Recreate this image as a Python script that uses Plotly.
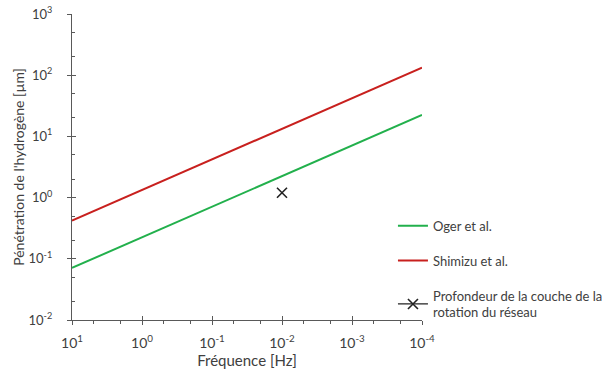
import plotly.graph_objects as go

freq = [10, 1e-4]
oger = [0.071, 22.4]
shimizu = [0.42, 133]
marker_freq = [1e-2]
marker_depth = [1.2]

x_tickvals = [10, 1, 0.1, 0.01, 0.001, 0.0001]
x_ticktext = ["10<sup>1</sup>", "10<sup>0</sup>", "10<sup>-1</sup>", "10<sup>-2</sup>", "10<sup>-3</sup>", "10<sup>-4</sup>"]
y_tickvals = [0.01, 0.1, 1, 10, 100, 1000]
y_ticktext = ["10<sup>-2</sup>", "10<sup>-1</sup>", "10<sup>0</sup>", "10<sup>1</sup>", "10<sup>2</sup>", "10<sup>3</sup>"]

FONT = "Lato"
TXT = "#404040"
AX = "#595959"

fig = go.Figure()
fig.add_trace(go.Scatter(x=freq, y=oger, mode="lines", name="Oger et al.",
                         line=dict(color="#22b04c", width=2), legendgroup="a"))
fig.add_trace(go.Scatter(x=freq, y=shimizu, mode="lines", name="Shimizu et al.",
                         line=dict(color="#c8201e", width=2), legendgroup="b"))
fig.add_trace(go.Scatter(x=marker_freq, y=marker_depth, mode="lines+markers",
                         name="Profondeur de la couche de la<br>rotation du réseau",
                         marker=dict(symbol="x-thin", size=10, line=dict(color="#222222", width=1.6), color="#222222"),
                         line=dict(color="#222222", width=1.2), legendgroup="c"))
# invisible trace for secondary (inside-tick) axes
fig.add_trace(go.Scatter(x=freq, y=oger, xaxis="x2", yaxis="y2", mode="lines",
                         line=dict(width=0), showlegend=False, hoverinfo="skip", opacity=0))

fig.update_layout(
    width=603, height=372,
    margin=dict(l=72, r=181, t=14, b=52, autoexpand=False),
    paper_bgcolor="white", plot_bgcolor="white",
    font=dict(family=FONT, size=13, color=TXT),
    showlegend=True,
    legend=dict(x=0.917, y=0.357, xanchor="left", yanchor="top",
                font=dict(family=FONT, size=13, color=TXT),
                tracegroupgap=15, itemwidth=30, bgcolor="rgba(0,0,0,0)"),
    xaxis=dict(type="log", range=[1, -4], autorange=False,
               tickvals=x_tickvals, ticktext=x_ticktext,
               showgrid=False, zeroline=False, showline=True, linecolor=AX, linewidth=1.3,
               ticks="outside", ticklen=4, tickcolor=AX, tickwidth=1.3,
               minor=dict(ticks="outside", ticklen=3, tickcolor=AX, showgrid=False),
               tickfont=dict(size=14, color=TXT), ticklabelstandoff=6,
               title=dict(text="Fréquence [Hz]", font=dict(size=15, color=TXT), standoff=4)),
    yaxis=dict(type="log", range=[-2, 3], autorange=False,
               tickvals=y_tickvals, ticktext=y_ticktext,
               showgrid=False, zeroline=False, showline=True, linecolor=AX, linewidth=1.3,
               ticks="outside", ticklen=4, tickcolor=AX, tickwidth=1.3,
               tickfont=dict(size=13, color=TXT), ticklabelstandoff=12,
               title=dict(text="Pénétration de l'hydrogène [µm]", font=dict(size=14, color=TXT), standoff=0)),
    xaxis2=dict(type="log", range=[1, -4], autorange=False, overlaying="x", anchor="y2",
                tickvals=x_tickvals, showticklabels=False, showgrid=False, zeroline=False,
                ticks="inside", ticklen=4, tickcolor=AX, tickwidth=1.3, showline=False),
    yaxis2=dict(type="log", range=[-2, 3], autorange=False, overlaying="y", anchor="x2",
                tickvals=y_tickvals, showticklabels=False, showgrid=False, zeroline=False,
                ticks="inside", ticklen=4, tickcolor=AX, tickwidth=1.3, showline=False,
                minor=dict(ticks="inside", ticklen=3, tickcolor=AX, showgrid=False)),
)

fig.write_html("out.html", config={"displayModeBar": False},
               post_script="document.body.style.margin='0';")
